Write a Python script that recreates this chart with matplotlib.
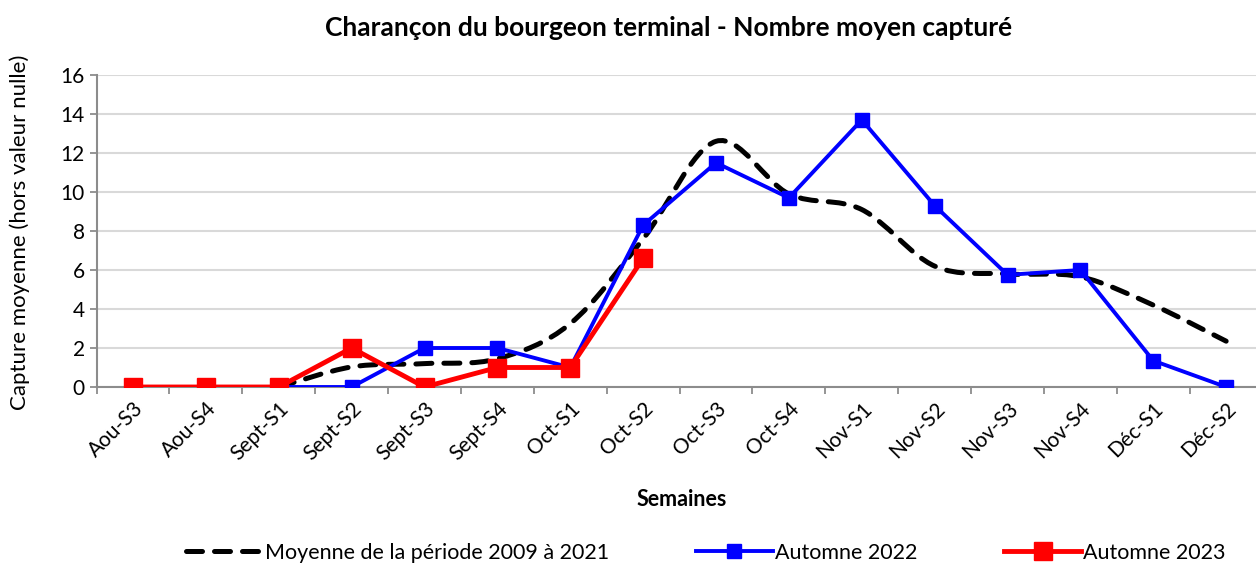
import matplotlib.pyplot as plt
from matplotlib.path import Path
from matplotlib.patches import PathPatch
from matplotlib.lines import Line2D

plt.rcParams['font.family'] = ['Lato', 'DejaVu Sans']

semaines = ['Aou-S3', 'Aou-S4', 'Sept-S1', 'Sept-S2', 'Sept-S3', 'Sept-S4',
            'Oct-S1', 'Oct-S2', 'Oct-S3', 'Oct-S4', 'Nov-S1', 'Nov-S2',
            'Nov-S3', 'Nov-S4', 'Déc-S1', 'Déc-S2']
# moyenne 2009-2021 (starts at Sept-S1)
moyenne = [None, None, 0, 1.03, 1.2, 1.45, 3.25, 7.6, 12.6, 9.9, 9.1, 6.2,
           5.8, 5.65, 4.2, 2.35]
automne_2022 = [0, 0, 0, 0, 2, 2, 1, 8.3, 11.5, 9.7, 13.7, 9.3, 5.75, 6.0, 1.35, 0]
automne_2023 = [0, 0, 0, 2, 0, 1, 1, 6.6]

dash = (0, (3.2, 2.4))

fig = plt.figure(figsize=(12.56, 5.66), dpi=100)
ax = fig.add_axes([96.6 / 1256, 1 - 387 / 566, 1166 / 1256, 312 / 566])

# smoothed dashed line (Excel style bezier through the points)
pts = [(i, v) for i, v in enumerate(moyenne) if v is not None]
verts = [pts[0]]
codes = [Path.MOVETO]
for k in range(len(pts) - 1):
    p0 = pts[k - 1] if k > 0 else pts[k]
    p1 = pts[k]
    p2 = pts[k + 1]
    p3 = pts[k + 2] if k + 2 < len(pts) else pts[k + 1]
    c1 = (p1[0] + (p2[0] - p0[0]) / 6, p1[1] + (p2[1] - p0[1]) / 6)
    c2 = (p2[0] - (p3[0] - p1[0]) / 6, p2[1] - (p3[1] - p1[1]) / 6)
    verts += [c1, c2, p2]
    codes += [Path.CURVE4] * 3
patch = PathPatch(Path(verts, codes), fill=False, edgecolor='black', lw=3.6,
                  linestyle=dash, capstyle='round', zorder=3)
ax.add_patch(patch)

x = list(range(len(semaines)))
ax.plot(x, automne_2022, color='#0000ff', lw=2.8, marker='s', ms=10, zorder=4)
ax.plot(x[:len(automne_2023)], automne_2023, color='#ff0000', lw=3.5, marker='s',
        ms=12.5, zorder=5)

ax.set_xlim(-0.5, len(semaines) - 0.5)
ax.set_ylim(0, 16)
ax.set_yticks(range(0, 17, 2))
ax.set_xticks(x)
ax.set_xticklabels(semaines, rotation=45, ha='right', rotation_mode='anchor',
                   fontsize=15)
ax.set_xticks([i - 0.5 for i in range(len(semaines) + 1)], minor=True)
ax.tick_params(axis='x', which='major', length=0, pad=8)
ax.tick_params(axis='x', which='minor', length=5, color='#8c8c8c', width=1.3)
ax.tick_params(axis='y', length=5, color='#8c8c8c', width=1.3, labelsize=15)
ax.grid(axis='y', color='#d9d9d9', lw=1.5)
ax.set_axisbelow(True)
for s in ['top', 'right']:
    ax.spines[s].set_visible(False)
for s in ['left', 'bottom']:
    ax.spines[s].set_color('#8c8c8c')
    ax.spines[s].set_linewidth(1.5)

fig.text(0.532, 1 - 28 / 566, 'Charançon du bourgeon terminal - Nombre moyen capturé',
         ha='center', va='center', fontsize=19, fontweight='bold')
fig.text(0.543, 1 - 500 / 566, 'Semaines', ha='center', va='center',
         fontsize=15.5, fontweight='bold')
fig.text(20 / 1256, 1 - 232 / 566, 'Capture moyenne (hors valeur nulle)', ha='center',
         va='center', rotation=90, fontsize=16)

handles = [Line2D([], [], color='black', lw=3.6, linestyle=dash,
                  dash_capstyle='round'),
           Line2D([], [], color='#0000ff', lw=2.8, marker='s', ms=10),
           Line2D([], [], color='#ff0000', lw=3.5, marker='s', ms=12.5)]
labels = ['Moyenne de la période 2009 à 2021', 'Automne 2022', 'Automne 2023']
fig.legend(handles, labels, loc='center', bbox_to_anchor=(0.562, 1 - 553 / 566),
           ncol=3, frameon=False, fontsize=15.5, handlelength=3.6, handletextpad=0.1,
           columnspacing=4.0, borderpad=0)

fig.savefig('out.png', dpi=100)
